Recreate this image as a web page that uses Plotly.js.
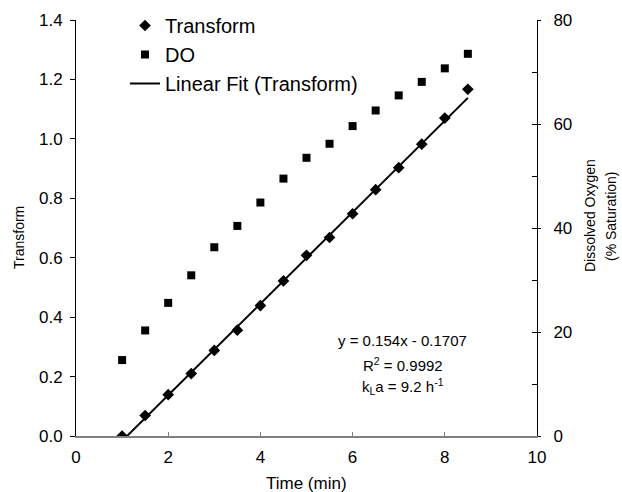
<!DOCTYPE html>
<html>
<head>
<meta charset="utf-8">
<script src="https://cdn.plot.ly/plotly-3.0.1.min.js"></script>
<style>
  html, body { margin: 0; padding: 0; background: #fff; }
  #chart { width: 622px; height: 492px; }
</style>
</head>
<body>
<div id="chart"></div>
<script>
// ---- data ----
const timeMin = [1, 1.5, 2, 2.5, 3, 3.5, 4, 4.5, 5, 5.5, 6, 6.5, 7, 7.5, 8, 8.5];
const transformVals = [0.0, 0.069, 0.139, 0.210, 0.288, 0.356, 0.439, 0.522, 0.608, 0.668, 0.748, 0.829, 0.903, 0.982, 1.070, 1.167];
const doVals = [14.6, 20.3, 25.6, 30.9, 36.3, 40.4, 44.9, 49.5, 53.5, 56.2, 59.6, 62.6, 65.5, 68.1, 70.7, 73.5];
const fitTime = [1.108, 8.5];
const fitVals = [0.0, 1.138];
const rightMajorVals = [0, 20, 40, 60, 80];
const rightMajorText = ['0', '20', '40', '60', '80'];
const eqLines = ['y = 0.154x - 0.1707', 'R<sup>2</sup> = 0.9992', 'k<sub>L</sub>a = 9.2 h<sup>-1</sup>'];

const FONT = 'Liberation Sans, Arial, Helvetica, sans-serif';

const traces = [
  { x: timeMin, y: transformVals, name: 'Transform', type: 'scatter', mode: 'markers',
    marker: { symbol: 'diamond', size: 9, color: '#000' }, xaxis: 'x', yaxis: 'y' },
  { x: timeMin, y: doVals, name: 'DO', type: 'scatter', mode: 'markers',
    marker: { symbol: 'square', size: 8, color: '#000' }, xaxis: 'x', yaxis: 'y2' },
  { x: fitTime, y: fitVals, name: 'Linear Fit (Transform)', type: 'scatter', mode: 'lines',
    line: { color: '#000', width: 2 }, xaxis: 'x', yaxis: 'y' },
  // invisible trace to carry the third (tick-only) axis
  { x: [0], y: [0], type: 'scatter', mode: 'markers', marker: { opacity: 0 }, showlegend: false,
    hoverinfo: 'skip', xaxis: 'x', yaxis: 'y3' }
];

const annotations = [
  { text: 'Time (min)', xref: 'paper', yref: 'paper', x: 0.5, y: -0.114, xanchor: 'center', yanchor: 'middle',
    showarrow: false, font: { family: FONT, size: 17, color: '#000' } },
  { text: 'Transform', xref: 'paper', yref: 'paper', x: (19 - 76) / 461, y: (436 - 238) / 416,
    xanchor: 'center', yanchor: 'middle', textangle: -90, showarrow: false,
    font: { family: FONT, size: 14, color: '#000' } },
  { text: 'Dissolved Oxygen', xref: 'paper', yref: 'paper', x: (590 - 76) / 461, y: (436 - 216) / 416,
    xanchor: 'center', yanchor: 'middle', textangle: -90, showarrow: false,
    font: { family: FONT, size: 14, color: '#000' } },
  { text: '(% Saturation)', xref: 'paper', yref: 'paper', x: (611 - 76) / 461, y: (436 - 217) / 416,
    xanchor: 'center', yanchor: 'middle', textangle: -90, showarrow: false,
    font: { family: FONT, size: 14, color: '#000' } }
];
const eqY = [0.320, 0.241, 0.165];
eqLines.forEach((t, i) => annotations.push({
  text: t, xref: 'x', yref: 'y', x: 7.09, y: eqY[i], xanchor: 'center', yanchor: 'middle',
  showarrow: false, font: { family: FONT, size: 15, color: '#000' }
}));

const layout = {
  width: 622, height: 492,
  margin: { l: 76, r: 85, t: 20, b: 56, autoexpand: false },
  paper_bgcolor: '#fff', plot_bgcolor: '#fff',
  font: { family: FONT, size: 17, color: '#000' },
  showlegend: true,
  legend: { x: (125 - 76) / 461, y: 1 - 6 / 492, yref: 'container', xanchor: 'left', yanchor: 'top',
    bgcolor: 'rgba(0,0,0,0)', borderwidth: 0, font: { family: FONT, size: 20, color: '#000' } },
  xaxis: { range: [0, 10], dtick: 2, tick0: 0, showgrid: false, zeroline: false,
    showline: true, linecolor: '#808080', linewidth: 1.5,
    ticks: 'inside', ticklen: 4, tickcolor: '#808080', tickwidth: 1,
    tickfont: { size: 17 }, ticklabelstandoff: 5 },
  yaxis: { range: [0, 1.4], dtick: 0.2, tick0: 0, tickformat: '.1f', showgrid: false, zeroline: false,
    showline: true, linecolor: '#000', linewidth: 1, ticks: 'outside', ticklen: 5, tickcolor: '#000',
    tickfont: { size: 17 }, ticklabelstandoff: 4 },
  yaxis2: { range: [0, 80], overlaying: 'y', side: 'right', showgrid: false, zeroline: false,
    showline: true, linecolor: '#000', linewidth: 1, ticks: 'inside', ticklen: 5, tickcolor: '#000',
    tickmode: 'array', tickvals: rightMajorVals, ticktext: rightMajorText,
    minor: { dtick: 10, tick0: 0, ticks: 'inside', ticklen: 5, tickcolor: '#000', showgrid: false },
    tickfont: { size: 17 }, ticklabelstandoff: 12 },
  yaxis3: { range: [0, 80], overlaying: 'y', side: 'right', showgrid: false, zeroline: false,
    showline: false, ticks: 'outside', ticklen: 3, tickcolor: '#000',
    tickmode: 'array', tickvals: rightMajorVals, showticklabels: false },
  annotations: annotations
};

Plotly.newPlot('chart', traces, layout, { staticPlot: true, displayModeBar: false });
</script>
</body>
</html>
